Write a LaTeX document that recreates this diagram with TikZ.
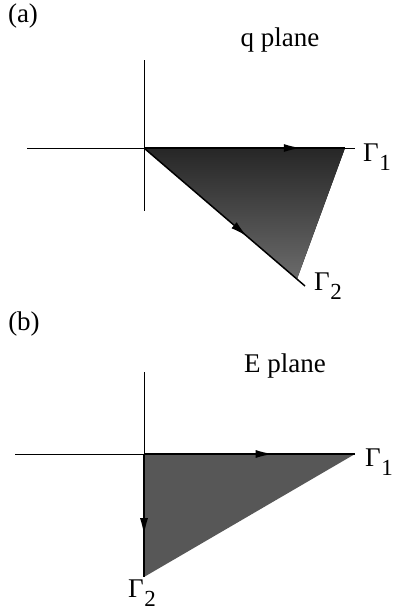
\documentclass[tikz,border=0pt]{standalone}
\usepackage{fontspec}
\setmainfont{Liberation Serif}
\usetikzlibrary{arrows.meta,decorations.markings}

\tikzset{
  axis/.style={black, line width=0.8pt},
  edge/.style={black, line width=1.5pt},
  regionA/.style={top color=black!85, bottom color=black!58, draw=none},
  regionB/.style={fill=black!66, draw=none},
  lbl/.style={font=\fontsize{27}{30}\selectfont, inner sep=0pt},
  midarrow/.style={postaction={decorate},
    decoration={markings, mark=at position #1 with {\arrow{Latex[length=17pt,width=8pt]}}}},
}
\newcommand{\gam}[1]{Γ\kern0.5pt\raisebox{-0.35em}{\fontsize{23}{24}\selectfont #1}}

\begin{document}
\begin{tikzpicture}[x=1pt, y=-1pt]
  \useasboundingbox (0,0) rectangle (393,613);

  % (a) q plane
  \node[lbl] (tagA) at (23,16) {(a)};
  \node[lbl] (titleA) at (280,40) {q plane};
  \coordinate (oA) at (144,148);
  \coordinate (endA1) at (345,148);
  \coordinate (endA2) at (305,286);
  \fill[regionA] (oA) -- (endA1) -- (297,279) -- cycle;
  \draw[axis] (144,60) -- (144,211);
  \draw[axis] (27,148) -- (355,148);
  \draw[edge, midarrow=0.78] (oA) -- (endA1);
  \draw[edge, midarrow=0.64] (oA) -- (endA2);
  \node[lbl] (g1A) at (377,157) {\gam{1}};
  \node[lbl] (g2A) at (328,286) {\gam{2}};

  % (b) E plane
  \node[lbl] (tagB) at (24,324) {(b)};
  \node[lbl] (titleB) at (285,366) {E plane};
  \coordinate (oB) at (144,454);
  \coordinate (endB1) at (355,454);
  \coordinate (endB2) at (144,577);
  \fill[regionB] (oB) -- (endB1) -- (endB2) -- cycle;
  \draw[axis] (144,372) -- (144,577);
  \draw[axis] (15,454) -- (355,454);
  \draw[edge, midarrow=0.61] (oB) -- (endB1);
  \draw[edge, midarrow=0.66] (oB) -- (endB2);
  \node[lbl] (g1B) at (379,462) {\gam{1}};
  \node[lbl] (g2B) at (142,593) {\gam{2}};
\end{tikzpicture}
\end{document}
